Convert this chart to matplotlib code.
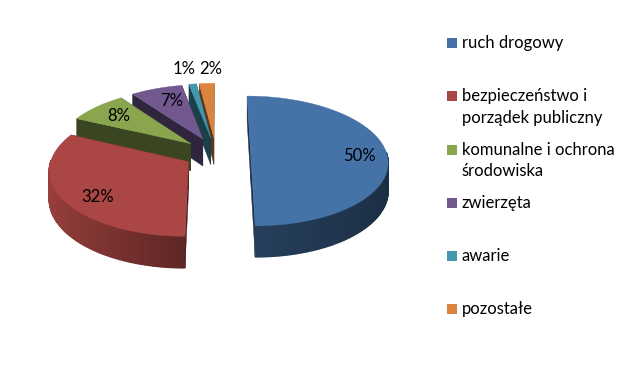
# -*- coding: utf-8 -*-
"""Exploded 3D-look pie chart with a perspective tilt."""

import matplotlib
matplotlib.use("Agg")
import matplotlib.pyplot as plt
import numpy as np
from matplotlib.patches import Polygon, Rectangle

labels = ["ruch drogowy", "bezpieczeństwo i\nporządek publiczny",
          "komunalne i ochrona\nśrodowiska", "zwierzęta", "awarie", "pozostałe"]
values = [50, 32, 8, 7, 1, 2]
pct_labels = ["50%", "32%", "8%", "7%", "1%", "2%"]
colors = ["#4572A7", "#AA4643", "#89A54E", "#71588F", "#4198AF", "#DB843D"]
explode = [0.255, 0.235, 0.245, 0.25, 0.255, 0.255]

CX, CY = 216.0, 153.5
RX, RY = 136.0, 64.0
PERSP = 0.115
DEPTH = 27.5

plt.rcParams["font.family"] = ["Lato", "DejaVu Sans"]


def project(u, v, depth=0.0):
    s = 1.0 / (1.0 + PERSP * v)
    return CX + RX * u * s, CY - RY * v * s + depth * s


def shade(color, factor):
    return tuple(c * factor for c in matplotlib.colors.to_rgb(color))


def draw_slice(ax, start, stop, color, exp):
    mid = np.radians((start + stop) / 2)
    ou, ov = exp * np.sin(mid), exp * np.cos(mid)
    th = np.radians(np.linspace(start, stop, max(int(stop - start), 4) + 1))
    u = ou + np.sin(th)
    v = ov + np.cos(th)

    # radial walls
    for eu, ev in ((u[0], v[0]), (u[-1], v[-1])):
        top = [project(ou, ov), project(eu, ev)]
        bot = [project(eu, ev, DEPTH), project(ou, ov, DEPTH)]
        wall = shade(color, 0.42)
        ax.add_patch(Polygon(top + bot, closed=True, fc=wall, ec=wall, lw=0.3))

    # outer wall, only the part facing the viewer, shaded along the arc
    for i in range(len(th) - 1):
        tm = (th[i] + th[i + 1]) / 2
        if np.cos(tm) > 0.02:
            continue
        sn = np.sin(tm)
        f = 0.55 - 0.35 * sn if sn < 0 else 0.55 - 0.15 * sn
        c = shade(color, f)
        quad = [project(u[i], v[i]), project(u[i + 1], v[i + 1]),
                project(u[i + 1], v[i + 1], DEPTH), project(u[i], v[i], DEPTH)]
        ax.add_patch(Polygon(quad, closed=True, fc=c, ec=c, lw=1.0))

    # top face
    pts = [project(ou, ov)] + [project(a, b) for a, b in zip(u, v)]
    ax.add_patch(Polygon(pts, closed=True, fc=color, ec=color, lw=0.3))


fig = plt.figure(figsize=(6.27, 3.76), dpi=100)
ax = fig.add_axes([0, 0, 1, 1])
ax.set_xlim(0, 627)
ax.set_ylim(376, 0)
ax.axis("off")

angles = np.concatenate([[0], np.cumsum(values) / np.sum(values) * 360])
for i in reversed(range(len(values))):
    draw_slice(ax, angles[i], angles[i + 1], colors[i], explode[i])

# percent labels
label_xy = [(359, 156), (98, 197), (119, 116), (172, 101), (184, 69), (211, 69)]
for txt, (x, y) in zip(pct_labels, label_xy):
    ax.text(x, y, txt, ha="center", va="center", fontsize=12, color="#000000")

# legend
legend_y = [43, 96, 150, 203, 256, 309]
for name, color, y in zip(labels, colors, legend_y):
    ax.add_patch(Rectangle((447, y - 5), 10, 10, fc=color, ec="none"))
    for j, line in enumerate(name.split("\n")):
        ax.text(461.5, y + j * 21.5, line, ha="left", va="center", fontsize=12, color="#000000")

fig.savefig("out.png", dpi=100)
plt.close(fig)
